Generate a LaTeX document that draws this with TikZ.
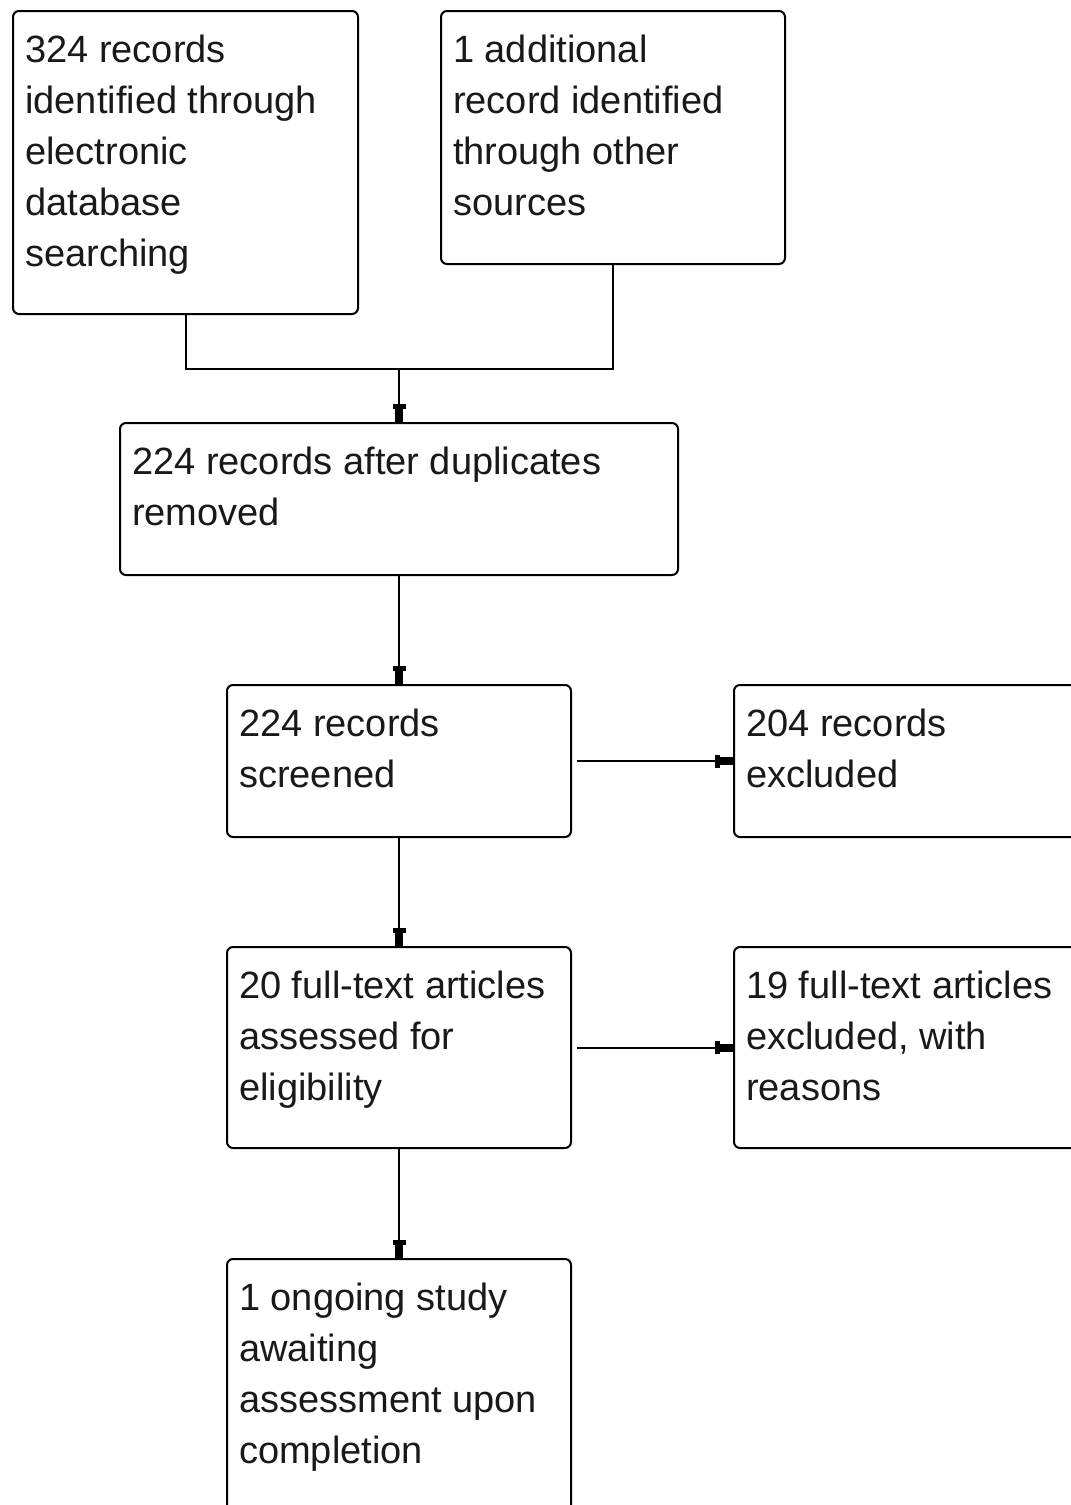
\documentclass[tikz,border=0pt]{standalone}
\usepackage{fontspec}
\setmainfont{Liberation Sans}
\usetikzlibrary{arrows.meta}
\begin{document}
\begin{tikzpicture}[x=1pt,y=-1pt,
  box/.style={draw, line width=2pt, rounded corners=6pt, anchor=north west, inner sep=0pt},
  txt/.style={anchor=north west, inner sep=0pt, align=left, font=\fontsize{38}{51}\selectfont, text=black!90},
  conn/.style={line width=2pt},
  arr/.style={line width=2pt, -{Rectangle[length=5pt,width=13pt]Rectangle[length=13pt,width=8pt]}}]
\useasboundingbox (0,0) rectangle (1071,1505);
\begin{scope}
\clip (0,0) rectangle (1071,1505);
% boxes
\node[box, minimum width=345pt, minimum height=303pt] (b1) at (12,10) {};
\node[box, minimum width=344pt, minimum height=253pt] (b2) at (440,10) {};
\node[box, minimum width=558pt, minimum height=152pt] (b3) at (119,422) {};
\node[box, minimum width=344pt, minimum height=152pt] (b4) at (226,684) {};
\node[box, minimum width=400pt, minimum height=152pt] (b5) at (733,684) {};
\node[box, minimum width=344pt, minimum height=201pt] (b6) at (226,946) {};
\node[box, minimum width=400pt, minimum height=201pt] (b7) at (733,946) {};
\node[box, minimum width=344pt, minimum height=320pt] (b8) at (226,1258) {};
% texts
\node[txt] (t1) at ([xshift=13pt,yshift=-17pt]b1.north west) {\strut 324 records\\identified through\\electronic\\database\\searching};
\node[txt] (t2) at ([xshift=13pt,yshift=-17pt]b2.north west) {\strut 1 additional\\record identified\\through other\\sources};
\node[txt] (t3) at ([xshift=13pt,yshift=-17pt]b3.north west) {\strut 224 records after duplicates\\removed};
\node[txt] (t4) at ([xshift=13pt,yshift=-17pt]b4.north west) {\strut 224 records\\screened};
\node[txt] (t5) at ([xshift=13pt,yshift=-17pt]b5.north west) {\strut 204 records\\excluded};
\node[txt] (t6) at ([xshift=13pt,yshift=-17pt]b6.north west) {\strut 20 full-text articles\\assessed for\\eligibility};
\node[txt] (t7) at ([xshift=13pt,yshift=-17pt]b7.north west) {\strut 19 full-text articles\\excluded, with\\reasons};
\node[txt] (t8) at ([xshift=13pt,yshift=-17pt]b8.north west) {\strut 1 ongoing study\\awaiting\\assessment upon\\completion};
% connectors
\coordinate (m) at (b3.north |- 0,369);
\draw[conn] (b1.south) |- (m) -| (b2.south);
\draw[arr] (m) -- (b3.north);
\draw[arr] (b3.south) -- (b4.north);
\draw[arr] ([xshift=5pt]b4.east) -- (b5.west);
\draw[arr] (b4.south) -- (b6.north);
\draw[arr] ([xshift=5pt]b6.east) -- (b7.west);
\draw[arr] (b6.south) -- (b8.north);
\end{scope}
\end{tikzpicture}
\end{document}
